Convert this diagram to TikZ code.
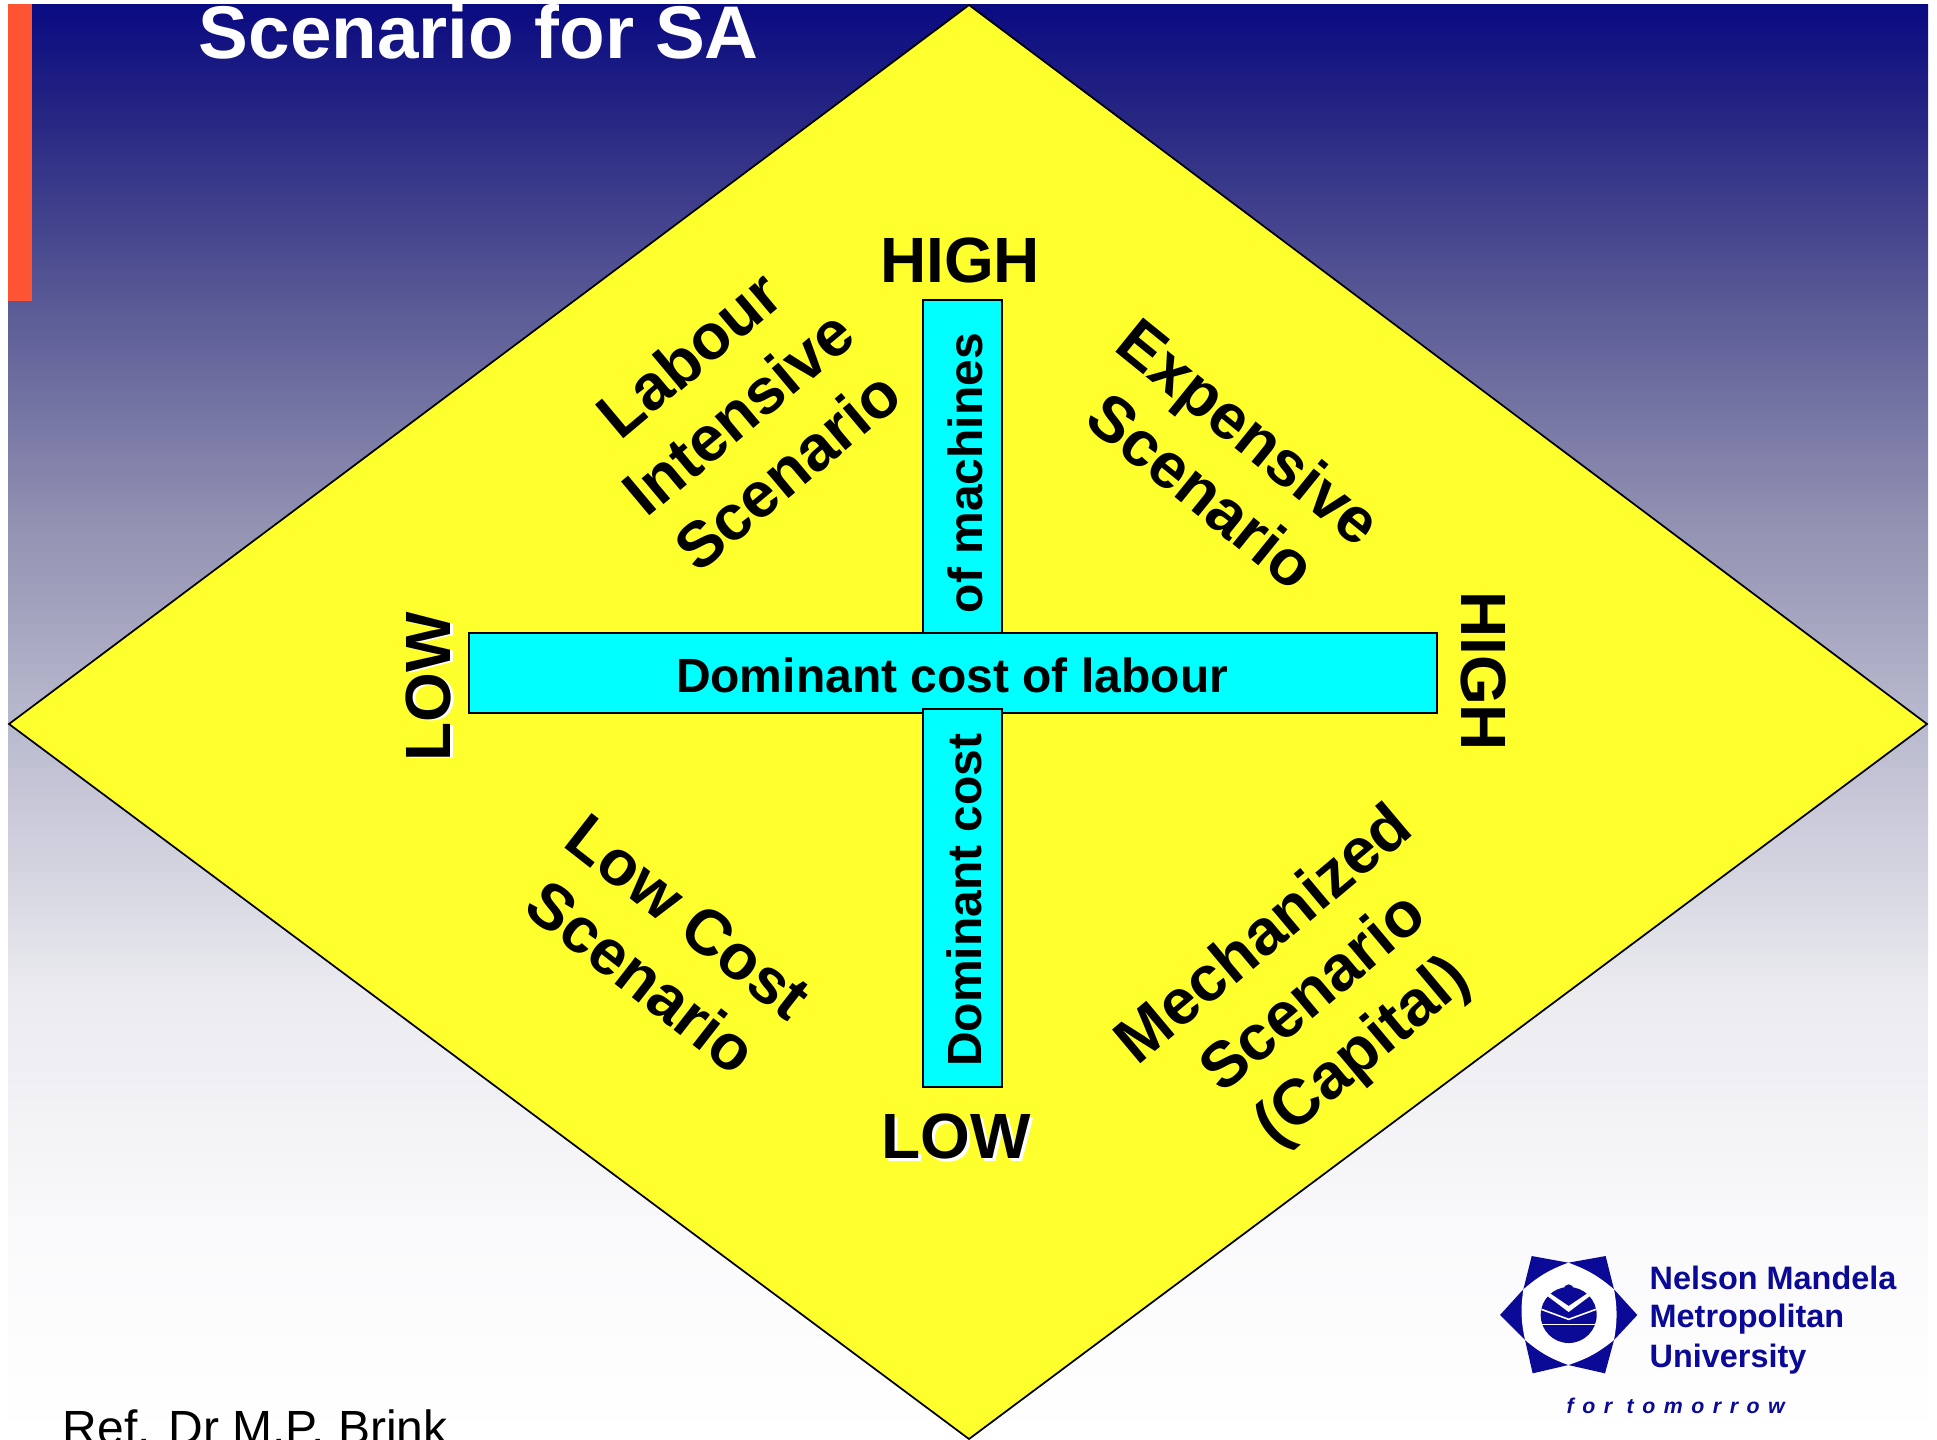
\documentclass[tikz,border=0pt]{standalone}
\usepackage{fontspec}
\setmainfont{Liberation Sans}
\definecolor{bgb}{RGB}{250,250,252}
\definecolor{bgc}{RGB}{235,235,240}
\definecolor{bgd}{RGB}{185,185,206}
\definecolor{bge}{RGB}{145,145,178}
\definecolor{bgf}{RGB}{90,90,150}
\definecolor{bgg}{RGB}{35,35,130}
\definecolor{bgh}{RGB}{10,10,130}
\definecolor{barred}{RGB}{255,84,51}
\definecolor{diayellow}{RGB}{255,255,45}
\definecolor{axiscyan}{RGB}{0,255,255}
\definecolor{logoblue}{RGB}{10,10,150}
\pgfdeclareverticalshading{slidebg}{100bp}{
  color(0bp)=(white);
  color(25bp)=(white);
  color(32bp)=(bgb);
  color(40.5bp)=(bgc);
  color(50bp)=(bgd);
  color(57bp)=(bge);
  color(64.5bp)=(bgf);
  color(71.5bp)=(bgg);
  color(75bp)=(bgh);
  color(100bp)=(bgh)}
\tikzset{
  axisbox/.style={draw=black,fill=axiscyan,line width=1.2pt},
  axistext/.style={font=\bfseries\fontsize{36}{40}\selectfont},
  endtext/.style={font=\bfseries\fontsize{48}{52}\selectfont},
  scenario/.style={font=\bfseries\fontsize{48}{57}\selectfont,align=center},
  logotext/.style={font=\bfseries\fontsize{24.3}{29}\selectfont,text=logoblue,anchor=west}
}
\begin{document}
\begin{tikzpicture}[x=0.75pt,y=-0.75pt]
  \useasboundingbox (0,0) rectangle (1937,1439);
  \clip (0,0) rectangle (1937,1439);
  \path[shading=slidebg] (8,4) rectangle (1928,1439);
  \fill[barred] (8,4) rectangle (32,301);
  \node[font=\bfseries\fontsize{56}{60}\selectfont,text=white,anchor=base west] (title) at (194,58) {Scenario for SA};
  % diamond
  \draw[fill=diayellow,line width=1.3pt] (969,5) -- (1927,724) -- (969,1439) -- (9,724) -- cycle;
  % axes
  \draw[axisbox] (923,300) rectangle (1002,640);
  \draw[axisbox] (469,633) rectangle (1437,713);
  \draw[axisbox] (923,709) rectangle (1002,1087);
  \node[axistext] (labouraxis) at (952,675) {Dominant cost of labour};
  \node[axistext,rotate=90] (machaxis) at (965,473) {of machines};
  \node[axistext,rotate=90] (costaxis) at (964,900) {Dominant cost};
  % ends
  \node[endtext] (hightop) at (960,260) {HIGH};
  \node[endtext,text=white] (lowbotshadow) at (959,1139) {LOW};
  \node[endtext] (lowbot) at (956,1136) {LOW};
  \node[endtext,text=white,rotate=90] (lowleftshadow) at (431,688) {LOW};
  \node[endtext,rotate=90] (lowleft) at (428,687) {LOW};
  \node[endtext,rotate=-90] (highright) at (1484,671) {HIGH};
  % scenarios
  \node[scenario,rotate=40] (labourscen) at (738,412) {Labour\\Intensive\\Scenario};
  \node[scenario,rotate=-39] (expscen) at (1226,461) {Expensive\\Scenario};
  \node[scenario,rotate=-38] (lowscen) at (665,947) {Low Cost\\Scenario};
  \node[scenario,rotate=40] (mechscen) at (1315,995) {Mechanized\\Scenario\\(Capital)};
  % reference
  \node[font=\fontsize{36}{40}\selectfont,anchor=base west] (refnote) at (58,1444) {Ref. Dr M.P. Brink};
  % logo
  \begin{scope}[shift={(1460,1230)},x=0.25pt,y=-0.25pt]
    \fill[logoblue] (325,98) -- (437,78) -- (462,178) -- (532,255) -- (462,330) -- (435,430) -- (325,405) -- (218,430) -- (195,330) -- (120,255) -- (190,178) -- (215,78) -- cycle;
    \fill[white] (325,98) to[bend left=10] (462,178) to[bend left=10] (462,330) to[bend left=10] (325,405) to[bend left=10] (195,330) to[bend left=10] (190,178) to[bend left=10] cycle;
    \fill[logoblue] (326,255) circle (84);
    \fill[logoblue] (326,178) circle (15);
    \fill[white] (270,190) -- (326,228) -- (382,190) -- (390,198) -- (326,246) -- (262,198) -- cycle;
    \draw[white,line width=1.2pt] (244,238) -- (326,268) -- (408,238);
    \draw[white,line width=1.2pt] (244,284) -- (408,284);
  \end{scope}
  \node[logotext] (logoa) at (1645,1278) {Nelson Mandela};
  \node[logotext] (logob) at (1645,1319) {Metropolitan};
  \node[logotext] (logoc) at (1645,1359) {University};
  \node[font=\bfseries\itshape\fontsize{16}{18}\selectfont,text=logoblue,anchor=west] (logod) at (1562,1406) {\addfontfeatures{LetterSpace=40}for tomorrow};
\end{tikzpicture}
\end{document}
